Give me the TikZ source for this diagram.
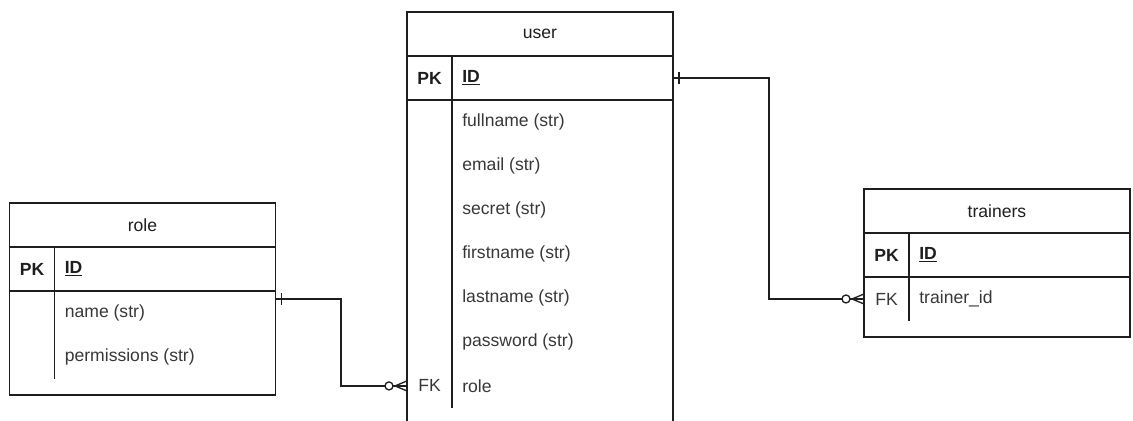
\documentclass[tikz,border=0pt]{standalone}
\usepackage{fontspec}
\setmainfont{Liberation Sans}
\usepackage{tikz}
\usetikzlibrary{positioning, calc}
\definecolor{edge}{RGB}{30, 30, 30}
\definecolor{ink}{RGB}{55, 55, 55}

\tikzset{
  one end/.pic={\draw[edge, line width=0.75pt] (0.12cm,-0.12cm) -- (0.12cm,0.12cm);},
  many end/.pic={
    \draw[edge, line width=0.75pt] (0,0.1cm) -- (-0.24cm,0) -- (0,-0.1cm);
    \draw[edge, line width=0.75pt, fill=white] (-0.36cm,0) circle (0.08cm);}
}

\begin{document}
\begin{tikzpicture}[x=0.02cm, y=-0.02cm,
  node distance=0cm,
  font=\fontsize{10}{12}\selectfont,
  tbl/.style={draw=edge, line width=0.75pt, minimum width=5.32cm, inner sep=0pt, outer sep=0pt},
  head/.style={tbl, minimum height=0.88cm, text=edge},
  keyrow/.style={tbl, minimum height=0.88cm},
  body/.style={tbl, minimum height=#1},
  field/.style={anchor=west, inner sep=0pt, text=ink},
  idfield/.style={field, text=edge, font=\fontsize{10}{12}\selectfont\bfseries},
  key/.style={anchor=center, inner sep=0pt, text=ink},
  pkey/.style={key, text=edge, font=\fontsize{10}{12}\selectfont\bfseries},
  col/.style={draw=edge, line width=0.75pt},
  rel/.style={draw=edge, line width=0.75pt}]

  \useasboundingbox (0,0) rectangle (1133,420);

  % role
  \node[head, anchor=north west] (role) at (9.5,203) {role};
  \node[keyrow, below=of role] (role-pk) {};
  \node[body=2.08cm, below=of role-pk] (role-body) {};
  \node[pkey] (role-pk-key) at ([xshift=0.45cm]role-pk.west) {PK};
  \node[idfield] (role-pk-id) at ([xshift=1.1cm]role-pk.west) {\underline{ID}};
  \foreach \txt [count=\i] in {name (str), permissions (str)}
    \node[field] (role-f\i) at ([xshift=1.1cm, yshift={-0.44cm-(\i-1)*0.88cm}]role-body.north west) {\txt};
  \draw[col] ([xshift=0.9cm]role-pk.north west) -- ([xshift=0.9cm, yshift=0.32cm]role-body.south west);

  % user
  \node[head, anchor=north west] (user) at (407,12) {user};
  \node[keyrow, below=of user] (user-pk) {};
  \node[body=6.48cm, below=of user-pk] (user-body) {};
  \node[pkey] (user-pk-key) at ([xshift=0.45cm]user-pk.west) {PK};
  \node[idfield] (user-pk-id) at ([xshift=1.1cm]user-pk.west) {\underline{ID}};
  \foreach \txt [count=\i] in {fullname (str), email (str), secret (str), firstname (str), lastname (str), password (str), role}
    \node[field] (user-f\i) at ([xshift=1.1cm, yshift={-0.44cm-(\i-1)*0.88cm}]user-body.north west) {\txt};
  \node[key] (user-fk-key) at (user-f7.west -| user-pk-key) {FK};
  \draw[col] ([xshift=0.9cm]user-pk.north west) -- ([xshift=0.9cm, yshift=0.32cm]user-body.south west);

  % trainers
  \node[head, anchor=north west] (trainers) at (864,189) {trainers};
  \node[keyrow, below=of trainers] (trainers-pk) {};
  \node[body=1.2cm, below=of trainers-pk] (trainers-body) {};
  \node[pkey] (trainers-pk-key) at ([xshift=0.45cm]trainers-pk.west) {PK};
  \node[idfield] (trainers-pk-id) at ([xshift=1.1cm]trainers-pk.west) {\underline{ID}};
  \node[field] (trainers-f1) at ([xshift=1.1cm, yshift=-0.44cm]trainers-body.north west) {trainer\_id};
  \node[key] (trainers-fk-key) at (trainers-f1.west -| trainers-pk-key) {FK};
  \draw[col] ([xshift=0.9cm]trainers-pk.north west) -- ([xshift=0.9cm, yshift=0.32cm]trainers-body.south west);

  % relations
  \coordinate (role-bend) at (341,0);
  \coordinate (user-bend) at (769,0);
  \coordinate (role-out) at ([yshift=-0.16cm]role-body.north east);
  \coordinate (user-in) at (user-f7 -| user-body.west);
  \coordinate (user-out) at (user-pk.east);
  \coordinate (trainers-in) at (trainers-f1 -| trainers-body.west);

  \draw[rel] (role-out) -- (role-out -| role-bend) |- (user-in);
  \draw[rel] (user-out) -- (user-out -| user-bend) |- (trainers-in);
  \pic at (role-out) {one end};
  \pic at (user-out) {one end};
  \pic at (user-in) {many end};
  \pic at (trainers-in) {many end};
\end{tikzpicture}
\end{document}
